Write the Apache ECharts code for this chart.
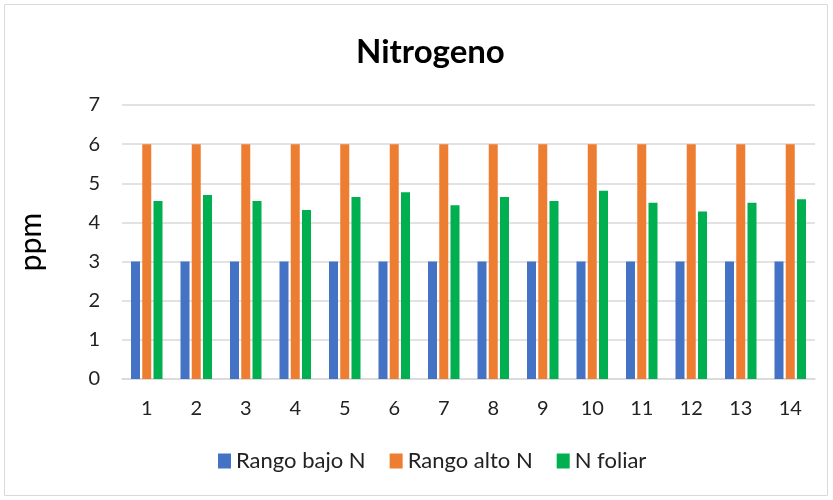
<!DOCTYPE html>
<html lang="es">
<head>
    <meta charset="UTF-8">
    <title>Nitrogeno</title>
    <script src="https://cdn.jsdelivr.net/npm/echarts@6/dist/echarts.min.js"></script>
    <style>
        html, body {
            margin: 0;
            padding: 0;
            background: #fff;
        }
        #chart {
            width: 833px;
            height: 500px;
        }
    </style>
</head>
<body>
<div id="chart"></div>
<script>
    var muestras = ['1', '2', '3', '4', '5', '6', '7', '8', '9', '10', '11', '12', '13', '14'];
    var rangoBajo = [3, 3, 3, 3, 3, 3, 3, 3, 3, 3, 3, 3, 3, 3];
    var rangoAlto = [6, 6, 6, 6, 6, 6, 6, 6, 6, 6, 6, 6, 6, 6];
    var nFoliar = [4.55, 4.7, 4.55, 4.32, 4.65, 4.77, 4.44, 4.65, 4.55, 4.81, 4.5, 4.28, 4.5, 4.59];

    var fuente = 'Lato, "Open Sans", sans-serif';

    var myChart = echarts.init(document.getElementById('chart'));
    var option = {
        animation: false,
        textStyle: { fontFamily: fuente },
        graphic: [{
            type: 'rect',
            shape: { x: 4.5, y: 4.5, width: 823, height: 491 },
            style: { fill: 'none', stroke: '#d9d9d9', lineWidth: 1 }
        }],
        title: {
            text: 'Nitrogeno',
            left: 351,
            top: 31,
            textStyle: { fontFamily: fuente, fontSize: 33, fontWeight: 'bold', color: '#000' }
        },
        legend: {
            data: ['Rango bajo N', 'Rango alto N', 'N foliar'],
            bottom: 23,
            left: 213,
            itemWidth: 13,
            itemHeight: 15,
            itemGap: 24,
            icon: 'rect',
            textStyle: { fontFamily: fuente, fontSize: 22, color: '#222' }
        },
        grid: {
            left: 122,
            right: 18,
            top: 105,
            bottom: 121
        },
        xAxis: {
            type: 'category',
            data: muestras,
            axisLine: { lineStyle: { color: '#d9d9d9', width: 1.5 } },
            axisTick: { show: false },
            axisLabel: { fontFamily: fuente, fontSize: 20, color: '#222', margin: 20 }
        },
        yAxis: {
            type: 'value',
            name: 'ppm',
            nameLocation: 'middle',
            nameGap: 76,
            nameTextStyle: { fontFamily: fuente, fontSize: 30, color: '#000' },
            min: 0,
            max: 7,
            interval: 1,
            axisLine: { show: false },
            axisTick: { show: false },
            splitLine: { lineStyle: { color: '#d9d9d9', width: 1.5 } },
            axisLabel: { fontFamily: fuente, fontSize: 20, color: '#222', margin: 22 }
        },
        series: [{
            name: 'Rango bajo N',
            type: 'bar',
            data: rangoBajo,
            barWidth: 9,
            barGap: '25%',
            itemStyle: { color: '#4472C4' }
        }, {
            name: 'Rango alto N',
            type: 'bar',
            data: rangoAlto,
            barWidth: 9,
            barGap: '25%',
            itemStyle: { color: '#ED7D31' }
        }, {
            name: 'N foliar',
            type: 'bar',
            data: nFoliar,
            barWidth: 9,
            barGap: '25%',
            itemStyle: { color: '#00B050' }
        }]
    };
    myChart.setOption(option);
</script>
</body>
</html>
